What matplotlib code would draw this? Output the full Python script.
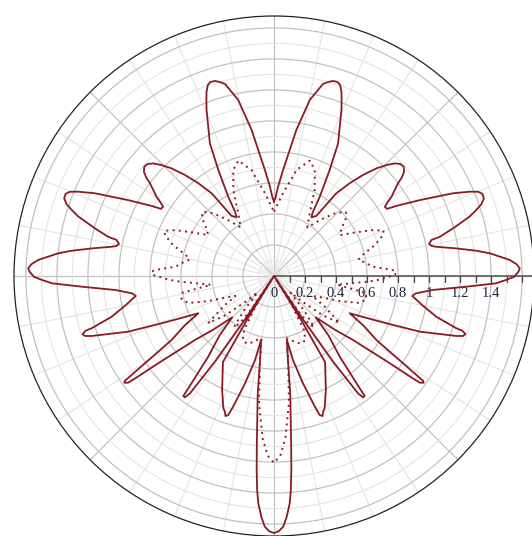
import numpy as np
import matplotlib.pyplot as plt
from matplotlib.ticker import NullFormatter
from matplotlib.transforms import offset_copy

# right half of each curve, read clockwise from the top: angle (deg), radius
# the left half is the mirror image about the vertical axis
solid_deg = [90, 88.8, 87.4, 85.1, 81.3, 78.5, 75.7, 74.4, 73.2, 71.9, 70.9, 69.9, 69.0, 67.9,
             64.2, 62.3, 60.0, 58.8, 57.5, 54.8, 54.1, 53.0, 50.8, 48.6, 46.4, 44.6,
             43.0, 41.5, 40.1, 38.7, 37.5, 36.8, 34.0, 33.1, 32.0, 30.7, 29.8,
             27.5, 24.8, 23.3, 22.45, 21.5, 20.3, 19.1, 18.1, 16.9, 14.9, 13.3, 12.9, 11.7, 10.8,
             10.2, 8.6, 7.1, 6.0, 3.9, 2.8, 1.8, 1.0, -0.2, -1.0, -1.9, -3.2, -5.05, -7.0, -8.2,
             -11.3, -14.1, -16.0, -16.2, -16.9, -17.6, -18.2, -20.9, -22.8, -24.6, -26.2,
             -29.0, -32.0, -34.1, -34.8, -35.1, -35.5, -36.2, -36.4, -37.0, -39.0, -41.5, -44.7,
             -47.5, -50.8, -52.65, -52.9, -53.7, -54.4, -55.4, -56.2, -57.0,
             -58.3, -59.3, -65.6, -69.0, -70.1, -70.9, -71.8, -72.6, -74.9, -77.3, -78.6,
             -80.2, -82.2, -84.2, -84.9, -85.5, -86.05, -87.0, -87.9, -88.9, -90]
solid_r = [0.48, 0.51, 0.577, 0.686, 0.953, 1.159, 1.278, 1.299, 1.314, 1.317, 1.304, 1.266, 1.217, 1.156,
           0.95, 0.772, 0.59, 0.485, 0.449, 0.474, 0.539, 0.668, 0.772, 0.869, 0.959, 1.019,
           1.065, 1.09, 1.094, 1.075, 1.036, 0.999, 0.914, 0.878, 0.843, 0.848, 0.91,
           1.06, 1.272, 1.375, 1.424, 1.445, 1.443, 1.416, 1.373, 1.319, 1.195, 1.099, 1.042, 1.021, 1.034,
           1.065, 1.19, 1.316, 1.40, 1.524, 1.566, 1.586, 1.577, 1.548, 1.495, 1.431, 1.239, 1.026, 0.921, 0.901,
           0.98, 1.08, 1.224, 1.266, 1.29, 1.279, 1.239, 1.006, 0.787, 0.64, 0.544,
           0.66, 0.779, 1.005, 1.119, 1.175, 1.186, 1.165, 1.114, 0.935, 0.656, 0.52, 0.379,
           0.52, 0.67, 0.911, 0.97, 0.971, 0.931, 0.674, 0.35, 0.0,
           0.33, 0.645, 0.81, 0.912, 0.931, 0.956, 0.944, 0.886, 0.717, 0.556, 0.42,
           0.517, 0.775, 1.096, 1.257, 1.385, 1.47, 1.557, 1.618, 1.646, 1.658]

dotted_deg = [90, 83.8, 78.0, 72.8, 69.0, 64.7, 60.3, 55.5,
              50.5, 46.0, 43.0, 41.5, 38.5, 35.0, 31.8,
              28.0, 25.0, 22.5, 20.5, 17.0, 13.4, 11.0,
              8.0, 5.4, 3.0, 2.2, 0.5, -2.0, -3.2, -5.0, -7.9,
              -10.3, -14.0, -17.5, -21.0, -24.0, -27.5,
              -31.0, -35.6, -39.0, -42.0, -45.0,
              -49.0, -52.0, -54.0, -55.5, -57.0,
              -58.5, -61.0, -64.0, -68.0, -72.0, -76.0, -78.7,
              -80.5, -83.3, -86.0, -88.0, -90]
dotted_r = [0.415, 0.537, 0.699, 0.779, 0.733, 0.614, 0.465, 0.38,
            0.47, 0.56, 0.605, 0.62, 0.59, 0.53, 0.50,
            0.60, 0.70, 0.765, 0.75, 0.68, 0.586, 0.555,
            0.60, 0.638, 0.76, 0.787, 0.78, 0.68, 0.62, 0.52, 0.41,
            0.60, 0.615, 0.58, 0.45, 0.34, 0.28,
            0.38, 0.52, 0.40, 0.25, 0.15,
            0.30, 0.42, 0.38, 0.27, 0.0,
            0.22, 0.40, 0.46, 0.47, 0.45, 0.42, 0.41,
            0.55, 0.827, 1.05, 1.16, 1.205]

r_ticks = [0, 0.2, 0.4, 0.6, 0.8, 1.0, 1.2, 1.4]
r_labels = ['0', '0.2', '0.4', '0.6', '0.8', '1', '1.2', '1.4']

line_color = '#8a1a24'
r_max = 1.677


def full_curve(deg, r):
    deg = np.asarray(deg, dtype=float)
    r = np.asarray(r, dtype=float)
    th = np.concatenate([deg, 180 - deg[::-1][1:]])
    rr = np.concatenate([r, r[::-1][1:]])
    return np.deg2rad(th), rr


fig = plt.figure(figsize=(5.32, 5.36), dpi=100)
ax = fig.add_axes([14 / 532, 0, 520 / 532, 520 / 536], projection='polar')
ax.set_ylim(0, r_max)

# grid: circles every 0.1 (darker every 0.2), spokes every 11.25 deg (darker every 45)
ax.set_yticks(np.arange(0.2, 1.61, 0.2))
ax.set_yticks(np.arange(0.1, 1.65, 0.2), minor=True)
ax.set_xticks(np.deg2rad(np.arange(0, 360, 45)))
ax.set_xticks(np.deg2rad(np.arange(0, 360, 11.25)), minor=True)
ax.grid(which='major', color='#c2c2c2', lw=0.9)
ax.grid(which='minor', color='#e4e4e4', lw=0.8)
ax.xaxis.set_major_formatter(NullFormatter())
ax.xaxis.set_minor_formatter(NullFormatter())
ax.yaxis.set_major_formatter(NullFormatter())
ax.tick_params(axis='y', which='both', length=0)
ax.tick_params(axis='x', which='both', direction='in', length=4, width=0.8, color='black')
ax.spines['polar'].set_color('#222222')
ax.spines['polar'].set_linewidth(0.9)
ax.set_axisbelow(True)

# radial axis along 0 deg with ticks and labels
ax.plot([0, 0], [0, r_max], color='#666666', lw=1.3, zorder=2)
ax.plot(np.zeros(16), np.arange(1, 17) / 10, ls='none', marker=3, ms=4,
        mew=0.9, color='#444444', zorder=2)
lab_tr = offset_copy(ax.transData, fig=fig, x=0, y=-11, units='dots')
for rv, lab in zip(r_ticks, r_labels):
    ax.text(0, rv, lab, transform=lab_tr, ha='center', va='top',
            fontfamily='Liberation Serif', fontsize=10.5, color='#1d2440', zorder=3)

th, rr = full_curve(solid_deg, solid_r)
ax.plot(th, rr, color=line_color, lw=1.3, zorder=4)
th, rr = full_curve(dotted_deg, dotted_r)
ax.plot(th, rr, color=line_color, lw=1.4, ls=(0, (1, 2.2)), zorder=4)

fig.savefig('out.png', dpi=100)
